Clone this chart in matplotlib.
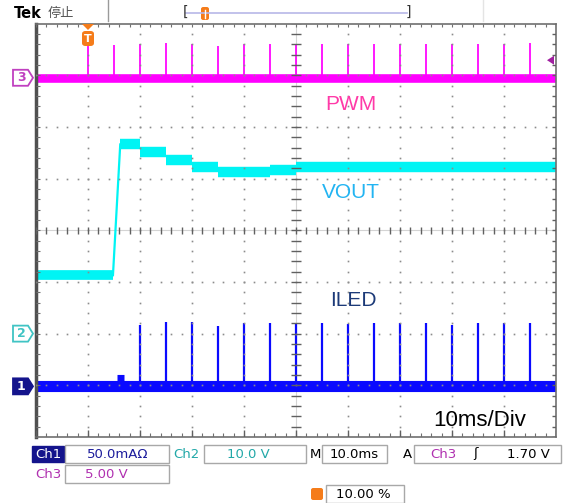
import matplotlib
matplotlib.use('Agg')
import matplotlib.pyplot as plt
from matplotlib.patches import Rectangle, FancyBboxPatch, Polygon
import numpy as np

W, H = 565, 503

# ---- scope settings ----
time_per_div = 10.0          # ms
ch1_scale, ch1_offset = 50.0, -3.02   # mA/div, div
ch2_scale, ch2_offset = 10.0, -2.0    # V/div
ch3_scale, ch3_offset = 5.0, 2.95     # V/div
trig_level = 1.70            # V on ch3
trig_time = 10.0             # ms

# ---- PWM (ch3) ----
pwm_t = [10, 15, 20, 25, 30, 35, 40, 45, 50, 55, 60, 65, 70, 75, 80, 85, 90, 95]
pwm_v = [3.3, 3.2, 3.3, 3.4, 3.3, 3.1, 3.3, 3.3, 3.3, 3.3, 3.3, 3.3, 3.3, 3.3, 3.3, 3.3, 3.3, 3.4]

# ---- VOUT (ch2) ----
vout_low = 11.3
vout_rise_t = [14.8, 16.2]
vout_step_t = [16.2, 20, 25, 30, 35, 45, 50, 100]
vout_step_v = [36.6, 35.1, 33.5, 32.3, 31.3, 31.6, 32.2]

# ---- ILED (ch1) ----
iled_t = [20, 25, 30, 35, 40, 45, 50, 55, 60, 65, 70, 75, 80, 85, 90, 95]
iled_ma = [59, 62, 62, 58, 61, 61, 60, 61, 60, 61, 61, 61, 59, 61, 61, 61]
iled_bump_t = [15.6, 16.9]
iled_bump_ma = 6

fig = plt.figure(figsize=(W / 100, H / 100), dpi=100)
fig.patch.set_facecolor('white')

def fx(x):
    return x / W

def fy(y):
    return 1 - y / H

ax_l, ax_r, ax_t, ax_b = 36, 556, 23.5, 437
ax = fig.add_axes([fx(ax_l), fy(ax_b), (ax_r - ax_l) / W, (ax_b - ax_t) / H])
ax.set_xlim(0, 10 * time_per_div)
ax.set_ylim(-4, 4)
ax.set_xticks([])
ax.set_yticks([])
for s in ['top', 'right', 'bottom']:
    ax.spines[s].set_color('#707070')
    ax.spines[s].set_linewidth(1.2)
ax.spines['left'].set_color('#505050')
ax.spines['left'].set_linewidth(2.5)

def px_y(d):
    return ax_t + (4 - d) * (ax_b - ax_t) / 8

# ---- graticule ----
minor_x = np.arange(0, 100.01, 2)
minor_y = np.arange(-4, 4.01, 0.2)
gcol = '#8c8c8c'
for gy in [-3, -2, -1, 1, 2, 3]:
    ax.plot(minor_x, np.full_like(minor_x, gy), ls='none', marker='s', ms=1.2,
            mec='none', color=gcol, zorder=4)
for gx in [10, 20, 30, 40, 60, 70, 80, 90]:
    ax.plot(np.full_like(minor_y, gx), minor_y, ls='none', marker='s', ms=1.2,
            mec='none', color=gcol, zorder=4)
ax.axhline(0, color='#d4d4d4', lw=0.8, zorder=1)
ax.axvline(50, color='#d4d4d4', lw=0.8, zorder=1)
ax.vlines(minor_x, -0.07, 0.07, color='#606060', lw=1.0, zorder=4)
ax.hlines(minor_y, 49.1, 50.9, color='#606060', lw=1.0, zorder=4)
ax.vlines(minor_x, 3.94, 4, color='#707070', lw=0.8, zorder=4)
ax.vlines(minor_x, -4, -3.93, color='#707070', lw=0.8, zorder=4)
ax.vlines(np.arange(0, 100.01, 10), -4, -3.86, color='#606060', lw=1.0, zorder=4)
ax.hlines(minor_y, 0, 0.7, color='#707070', lw=0.8, zorder=4)
ax.hlines(minor_y, 99.2, 100, color='#606060', lw=1.0, zorder=4)

# ---- traces ----
c3, c2, c1 = '#ff00ff', '#00f4f4', '#0a0aff'

# PWM
base3 = ch3_offset
ax.hlines(base3, 0, 100, color=c3, lw=6.2, zorder=2)
tops3 = [ch3_offset + v / ch3_scale for v in pwm_v]
ax.vlines(pwm_t, base3, tops3, color=c3, lw=1.4, alpha=0.9, zorder=2)

# VOUT
low2 = ch2_offset + vout_low / ch2_scale
ax.hlines(low2, 0, vout_rise_t[0], color=c2, lw=7, zorder=2)
ax.plot(vout_rise_t, [low2, ch2_offset + vout_step_v[0] / ch2_scale],
        color=c2, lw=1.6, zorder=2)
for i, v in enumerate(vout_step_v):
    ax.hlines(ch2_offset + v / ch2_scale, vout_step_t[i], vout_step_t[i + 1],
              color=c2, lw=7.5, zorder=2)

# ILED
base1 = ch1_offset
ax.hlines(base1, 0, 100, color=c1, lw=8, zorder=2)
ax.hlines(ch1_offset + iled_bump_ma / ch1_scale, iled_bump_t[0], iled_bump_t[1],
          color=c1, lw=8, zorder=2)
tops1 = [ch1_offset + v / ch1_scale for v in iled_ma]
ax.vlines(iled_t, base1, tops1, color=c1, lw=1.6, zorder=2)

# ---- labels in the screen ----
lab = dict(family='Liberation Sans', fontsize=15, ha='center', va='center')
fig.text(fx(351), fy(104), 'PWM', color='#ff3aa8', **lab)
fig.text(fx(351), fy(193), 'VOUT', color='#22b4f2', **lab)
fig.text(fx(353), fy(301), 'ILED', color='#1c3a78', **lab)
fig.text(fx(480), fy(421), '10ms/Div', color='black', family='Liberation Sans',
         fontsize=16, ha='center', va='center')

# ---- channel ground markers ----
def flag(yc, label, edge, face, tc):
    pts = [(13, yc - 8), (28, yc - 8), (33, yc), (28, yc + 8), (13, yc + 8)]
    fig.patches.append(Polygon([(fx(a), fy(b)) for a, b in pts], closed=True,
                               transform=fig.transFigure, fc=face, ec=edge, lw=1.3))
    fig.text(fx(21), fy(yc), label, color=tc, ha='center', va='center',
             fontsize=9, fontweight='bold')

flag(px_y(ch3_offset), '3', '#c040c0', 'white', '#c040c0')
flag(px_y(ch2_offset), '2', '#40c4c4', 'white', '#40c4c4')
flag(px_y(ch1_offset), '1', '#14148c', '#14148c', 'white')

# trigger level arrow (right)
ty = px_y(ch3_offset + trig_level / ch3_scale)
fig.patches.append(Polygon([(fx(547), fy(ty)), (fx(554), fy(ty - 4.5)), (fx(554), fy(ty + 4.5))],
                           closed=True, transform=fig.transFigure, fc='#a020a0', ec='none'))

# trigger position marker (top)
tx = ax_l + trig_time / 100 * (ax_r - ax_l)
orange = '#f57c1a'
fig.patches.append(Polygon([(fx(tx - 6), fy(24)), (fx(tx + 6), fy(24)), (fx(tx), fy(30))],
                           closed=True, transform=fig.transFigure, fc=orange, ec='none'))
fig.patches.append(FancyBboxPatch((fx(tx - 6), fy(46)), 12 / W, 15 / H,
                                  boxstyle='round,pad=0,rounding_size=0.006',
                                  transform=fig.transFigure, fc=orange, ec='none'))
fig.text(fx(tx), fy(38.5), 'T', color='white', ha='center', va='center',
         fontsize=8, fontweight='bold')

# ---- header ----
fig.text(fx(14), fy(13), 'Tek', fontsize=10.5, fontweight='bold', ha='left', va='center')
fig.text(fx(48), fy(13), '停止', family=['Noto Sans CJK SC', 'DejaVu Sans'],
         fontsize=9.5, color='#555555', ha='left', va='center')
fig.add_artist(plt.Line2D([fx(108), fx(108)], [fy(0), fy(21)], color='#9a9a9a', lw=1))
fig.add_artist(plt.Line2D([fx(483), fx(483)], [fy(0), fy(21)], color='#e4e4e4', lw=1))
fig.add_artist(plt.Line2D([fx(186), fx(407)], [fy(13), fy(13)], color='#b8b8e8', lw=1.2))
fig.text(fx(185), fy(12), '[', fontsize=10, ha='center', va='center', color='#333333')
fig.text(fx(408), fy(12), ']', fontsize=10, ha='center', va='center', color='#333333')
fig.patches.append(FancyBboxPatch((fx(201), fy(20)), 8 / W, 13 / H,
                                  boxstyle='round,pad=0,rounding_size=0.004',
                                  transform=fig.transFigure, fc=orange, ec='none'))
fig.add_artist(plt.Line2D([fx(205), fx(205)], [fy(10), fy(18)], color='white', lw=1))

# ---- status bar ----
def box(x0, x1, y0, y1, fc='white', ec='#a8a8a8'):
    fig.patches.append(Rectangle((fx(x0), fy(y1)), (x1 - x0) / W, (y1 - y0) / H,
                                 transform=fig.transFigure, fc=fc, ec=ec, lw=1))

def st(x, y, s, c, ha='center'):
    fig.text(fx(x), fy(y), s, color=c, fontsize=9.5, ha=ha, va='center')

navy, teal, purple = '#1c1c9c', '#22a8a8', '#b030b0'
r1, r2, r3 = 454, 474, 494
box(32, 64, r1 - 8, r1 + 8, fc='#14148c', ec='#14148c')
st(48, r1, 'Ch1', 'white')
box(65, 169, r1 - 9, r1 + 9)
st(118, r1, '50.0mAΩ', navy)
st(186, r1, 'Ch2', teal)
box(204, 306, r1 - 9, r1 + 9)
st(248, r1, '10.0 V', teal)
st(315, r1, 'M', 'black')
box(322, 387, r1 - 9, r1 + 9)
st(354, r1, '10.0ms', 'black')
st(407, r1, 'A', 'black')
box(414, 561, r1 - 9, r1 + 9)
st(443, r1, 'Ch3', purple)
st(475, r1, 'ʃ', 'black')
st(528, r1, '1.70 V', 'black')

st(48, r2, 'Ch3', purple)
box(65, 169, r2 - 9, r2 + 9)
st(106, r2, '5.00 V', purple)

fig.patches.append(FancyBboxPatch((fx(311), fy(r3 + 6)), 12 / W, 12 / H,
                                  boxstyle='round,pad=0,rounding_size=0.004',
                                  transform=fig.transFigure, fc=orange, ec='none'))
box(326, 404, r3 - 9, r3 + 9)
st(363, r3, '10.00 %', 'black')

fig.savefig('out.png', dpi=100)
